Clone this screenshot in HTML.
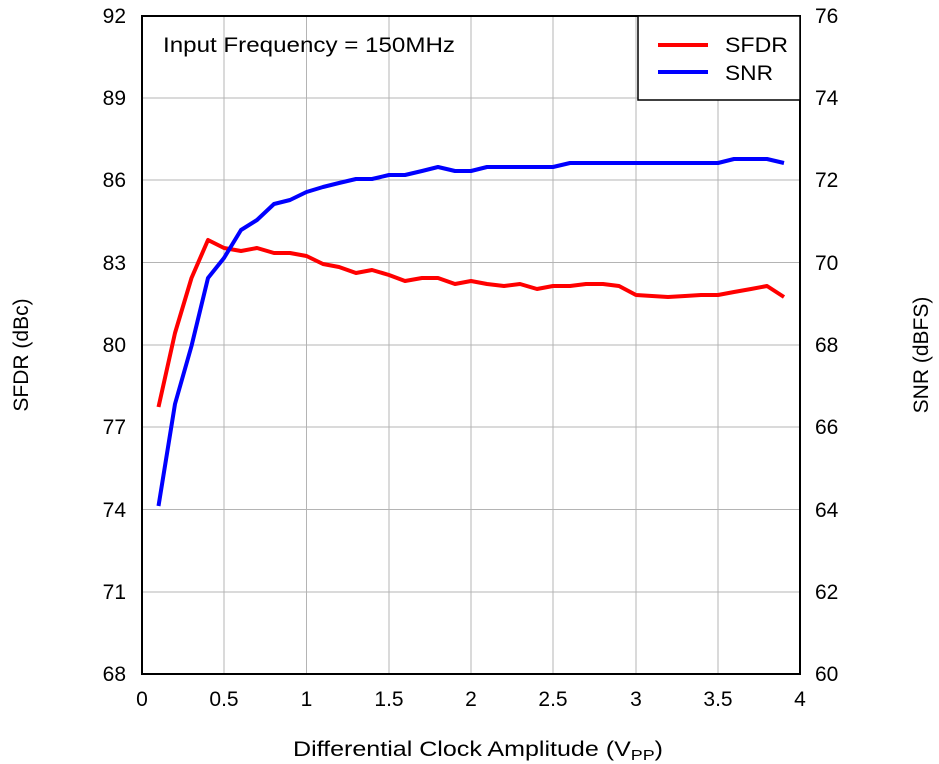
<!DOCTYPE html>
<html><head><style>body{margin:0;background:#fff}svg{display:block;font-family:"Liberation Sans",Arial,sans-serif}</style></head><body>
<svg width="939" height="764" viewBox="0 0 939 764" xmlns="http://www.w3.org/2000/svg">
<rect width="939" height="764" fill="#fff"/>
<g stroke="#b4b4b4" stroke-width="1">
<line x1="224" y1="16" x2="224" y2="674"/><line x1="306.5" y1="16" x2="306.5" y2="674"/><line x1="389" y1="16" x2="389" y2="674"/><line x1="471" y1="16" x2="471" y2="674"/><line x1="553" y1="16" x2="553" y2="674"/><line x1="636" y1="16" x2="636" y2="674"/><line x1="718" y1="16" x2="718" y2="674"/>
<line x1="142" y1="98" x2="800" y2="98"/><line x1="142" y1="180" x2="800" y2="180"/><line x1="142" y1="262.5" x2="800" y2="262.5"/><line x1="142" y1="345" x2="800" y2="345"/><line x1="142" y1="427" x2="800" y2="427"/><line x1="142" y1="509.5" x2="800" y2="509.5"/><line x1="142" y1="592" x2="800" y2="592"/>
</g>
<polyline fill="none" stroke="#ff0000" stroke-width="4" stroke-linejoin="round" points="158.5,407 175,333 191.5,278 208,240 224,248 241,251 257,248 274,253 290,253 306.5,256 323,264 339,267 356,273 372,270 389,275 405,281 422,278 438,278 455,284 471,281 487,284 504,286 520,284 537,289 553,286 570,286 586,284 603,284 619,286 636,295 652,296 668,297 685,296 701,295 718,295 734,292 751,289 767,286 784,297"/>
<polyline fill="none" stroke="#0000ff" stroke-width="4" stroke-linejoin="round" points="158.5,506 175,404 191.5,346 208,278 224,258 241,230 257,220 274,204 290,200 306.5,192 323,187 339,183 356,179 372,179 389,175 405,175 422,171 438,167 455,171 471,171 487,167 504,167 520,167 537,167 553,167 570,163 586,163 603,163 619,163 636,163 652,163 668,163 685,163 701,163 718,163 734,159 751,159 767,159 784,163"/>
<rect x="142" y="16" width="658" height="658" fill="none" stroke="#000" stroke-width="2"/>
<rect x="638" y="16" width="162" height="84" fill="#fff" stroke="#000" stroke-width="1.5"/>
<line x1="658" y1="45" x2="708" y2="45" stroke="#ff0000" stroke-width="4"/>
<line x1="658" y1="72" x2="708" y2="72" stroke="#0000ff" stroke-width="4"/>
<g font-size="21" fill="#000">
<text x="725" y="52" textLength="63" lengthAdjust="spacingAndGlyphs">SFDR</text><text x="725" y="80" textLength="48" lengthAdjust="spacingAndGlyphs">SNR</text>
<text x="163" y="52" textLength="292" lengthAdjust="spacingAndGlyphs">Input Frequency = 150MHz</text>
<g text-anchor="end"><text x="126" y="23">92</text><text x="126" y="105">89</text><text x="126" y="187">86</text><text x="126" y="270">83</text><text x="126" y="352">80</text><text x="126" y="434">77</text><text x="126" y="517">74</text><text x="126" y="599">71</text><text x="126" y="681">68</text></g>
<g text-anchor="start"><text x="815" y="23">76</text><text x="815" y="105">74</text><text x="815" y="187">72</text><text x="815" y="270">70</text><text x="815" y="352">68</text><text x="815" y="434">66</text><text x="815" y="517">64</text><text x="815" y="599">62</text><text x="815" y="681">60</text></g>
<g text-anchor="middle"><text x="142" y="706">0</text><text x="224" y="706">0.5</text><text x="306.5" y="706">1</text><text x="389" y="706">1.5</text><text x="471" y="706">2</text><text x="553" y="706">2.5</text><text x="636" y="706">3</text><text x="718" y="706">3.5</text><text x="800" y="706">4</text></g>
<text x="293" y="756" textLength="370" lengthAdjust="spacingAndGlyphs">Differential Clock Amplitude (V<tspan font-size="15" dy="4">PP</tspan><tspan dy="-4">)</tspan></text>
<text transform="translate(28,355) rotate(-90)" text-anchor="middle">SFDR (dBc)</text>
<text transform="translate(928,355) rotate(-90)" text-anchor="middle">SNR (dBFS)</text>
</g>
</svg>
</body></html>
